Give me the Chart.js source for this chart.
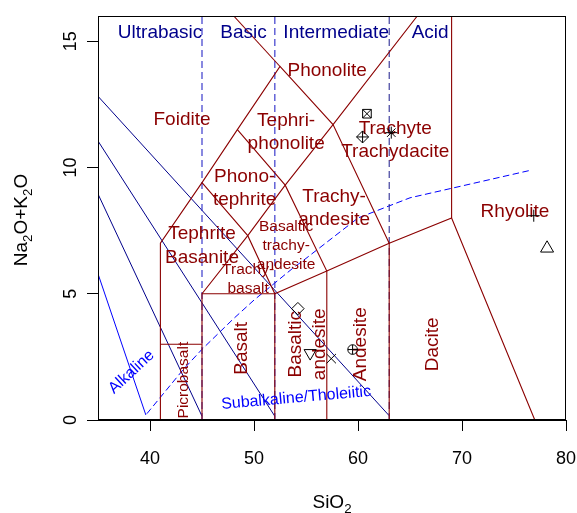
<!DOCTYPE html>
<html>
<head>
<meta charset="utf-8">
<script src="https://cdn.jsdelivr.net/npm/chart.js@4.4.1/dist/chart.umd.min.js"></script>
<style>
  html, body { margin: 0; padding: 0; background: #fff; }
  canvas { display: block; }
</style>
</head>
<body>
<canvas id="tas" width="577" height="513"></canvas>
<script>
// TAS diagram, total alkali vs silica (wt%)
const xTicks = [40, 50, 60, 70, 80]
const yTicks = [0, 5, 10, 15]

// samples
const sampleSiO2 = [60.86, 60.44, 63.2, 76.9, 78.18, 54.22, 55.4, 57.43, 59.48]
const sampleAlkali = [12.13, 11.21, 11.38, 8.09, 6.8, 4.41, 2.65, 2.43, 2.79]

// field boundaries, [SiO2, Na2O+K2O]
const fieldBoundaries = [
  [[41, 0], [41, 7], [45, 9.4], [48.4, 11.5], [52.5, 14], [57.6, 11.7], [63, 7]],
  [[48.05, 16], [52.5, 14]],
  [[45, 0], [45, 5], [52, 5], [52, 0]],
  [[41, 3], [45, 3]],
  [[45, 5], [49.4, 7.3], [53, 9.3], [57.6, 11.7], [65.7, 16]],
  [[45, 9.4], [49.4, 7.3], [52, 5], [57, 5.9], [63, 7], [69, 8], [77, 0]],
  [[48.4, 11.5], [53, 9.3], [57, 5.9], [57, 0]],
  [[63, 0], [63, 7]],
  [[69, 8], [69, 16]],
]
const silicaDividers = [45, 52, 63]
const navyLines = [
  [[35, 12.82], [63, 0.17]],
  [[35, 11.05], [52, 0.15]],
  [[35, 8.95], [45, 0.15]],
]
const alkalineLine = [[35, 5.79], [39.6, 0.2]]
const irvineBaragar = [[39.7, 0.25], [40, 0.4], [43.2, 2.0], [45, 2.8], [48, 4.0], [50, 4.75],
  [53.7, 6.0], [55, 6.4], [60, 8.0], [65, 8.8], [76.7, 9.9]]

const fieldNames = ['Foidite', 'Phonolite', 'Tephri-\nphonolite', 'Phono-\ntephrite', 'Tephrite\nBasanite',
  'Trachy-\nandesite', 'Basaltic\ntrachy-\nandesite', 'Trachy-\nbasalt', 'Trachyte\nTrachydacite',
  'Rhyolite', 'Picrobasalt', 'Basalt', 'Basaltic\nandesite', 'Andesite', 'Dacite']
const silicaClasses = ['Ultrabasic', 'Basic', 'Intermediate', 'Acid']
const seriesNames = ['Alkaline', 'Subalkaline/Tholeiitic']

const FONT = '"Liberation Sans", Arial, Helvetica, sans-serif'
const DARKRED = '#8b0000'
const NAVY = '#00008b'
const BLUE = '#0000ff'

// label placement: [SiO2, alkali, font size, angle]
const fieldLabelPos = [
  [43.08, 11.91, 19, 0], [57.03, 13.85, 19, 0], [53.09, 11.4, 19, 0], [49.1, 9.17, 19, 0],
  [45.0, 6.9, 19, 0], [57.7, 8.38, 19, 0], [53.09, 6.89, 15.5, 0], [49.43, 5.58, 15.5, 0],
  [63.58, 11.08, 19, 0], [75.09, 8.24, 19, 0], [43.21, 1.58, 15.5, 90], [48.83, 2.84, 19, 90],
  [55.18, 3.0, 19, 90], [60.3, 3.0, 19, 90], [67.2, 3.0, 19, 90],
]
const classLabelPos = [[40.97, 15.35], [49.0, 15.35], [57.9, 15.35], [66.94, 15.35]]
const seriesLabelPos = [[38.22, 1.9, 16, 43], [54.05, 0.87, 16, 5]]

// marker per sample: [pointStyle, radius, rotation] parts
const markerStyles = [
  [['rect', 6.1], ['crossRot', 6.1]],
  [['rectRot', 6], ['cross', 6]],
  [['star', 6]],
  [['cross', 6]],
  [['triangle', 7.5]],
  [['rectRot', 6.2]],
  [['triangle', 7, 180]],
  [['crossRot', 6.6]],
  [['circle', 4.8], ['cross', 4.8]],
]

const lineSet = (pts, color, width, dash) => ({
  data: pts.map(([x, y]) => ({ x, y })),
  showLine: true,
  pointRadius: 0,
  pointHoverRadius: 0,
  borderColor: color,
  borderWidth: width,
  borderDash: dash || [],
  fill: false,
  order: 2,
})

const datasets = []
fieldBoundaries.forEach(p => datasets.push(lineSet(p, DARKRED, 1.1)))
silicaDividers.forEach((x, i) => datasets.push(
  lineSet([[x, 0], [x, 16]], i < 2 ? 'rgba(45,45,200,0.8)' : '#1a1a8a', i < 2 ? 1.4 : 1, [7, 4])))
navyLines.forEach(p => datasets.push(lineSet(p, NAVY, 1)))
datasets.push(lineSet(alkalineLine, BLUE, 1))
datasets.push(lineSet(irvineBaragar, BLUE, 1, [6.5, 3.5]))

sampleSiO2.forEach((x, i) => {
  markerStyles[i].forEach(([style, r, rot]) => {
    datasets.push({
      data: [{ x, y: sampleAlkali[i] }],
      showLine: false,
      pointStyle: style,
      pointRadius: r,
      pointHoverRadius: r,
      pointRotation: rot || 0,
      pointBorderColor: '#000',
      pointBackgroundColor: 'rgba(0,0,0,0)',
      pointBorderWidth: 1,
      order: 1,
    })
  })
})

function drawLabel(ctx, text, px, py, size, angle, color) {
  const lines = text.split('\n')
  const lh = size * 1.23
  ctx.save()
  ctx.translate(px, py)
  ctx.rotate(-angle * Math.PI / 180)
  ctx.font = size + 'px ' + FONT
  ctx.fillStyle = color
  ctx.textAlign = 'center'
  ctx.textBaseline = 'middle'
  lines.forEach((l, k) => ctx.fillText(l, 0, (k - (lines.length - 1) / 2) * lh))
  ctx.restore()
}

// text with subscripts, parts = [text, isSub]
function drawSubText(ctx, parts, x, y, size, angle) {
  ctx.save()
  ctx.translate(x, y)
  ctx.rotate(-angle * Math.PI / 180)
  const widths = parts.map(([t, sub]) => {
    ctx.font = (sub ? size * 0.7 : size) + 'px ' + FONT
    return ctx.measureText(t).width
  })
  let cx = -widths.reduce((a, b) => a + b, 0) / 2
  ctx.fillStyle = '#000'
  ctx.textAlign = 'left'
  ctx.textBaseline = 'alphabetic'
  parts.forEach(([t, sub], k) => {
    ctx.font = (sub ? size * 0.7 : size) + 'px ' + FONT
    ctx.fillText(t, cx, sub ? size * 0.25 : 0)
    cx += widths[k]
  })
  ctx.restore()
}

const tasLayer = {
  id: 'tasLayer',
  afterDatasetDraw(chart, args) {
    if (args.index !== 0) return
    const { ctx, scales: { x, y } } = chart
    fieldNames.forEach((name, i) => {
      const [sx, sy, size, ang] = fieldLabelPos[i]
      drawLabel(ctx, name, x.getPixelForValue(sx), y.getPixelForValue(sy), size, ang, DARKRED)
    })
    silicaClasses.forEach((name, i) => {
      const [sx, sy] = classLabelPos[i]
      drawLabel(ctx, name, x.getPixelForValue(sx), y.getPixelForValue(sy), 19, 0, NAVY)
    })
    seriesNames.forEach((name, i) => {
      const [sx, sy, size, ang] = seriesLabelPos[i]
      drawLabel(ctx, name, x.getPixelForValue(sx), y.getPixelForValue(sy), size, ang, BLUE)
    })
  },
  afterDatasetsDraw(chart) {
    const { ctx, chartArea: a } = chart
    ctx.save()
    ctx.strokeStyle = '#000'
    ctx.lineWidth = 1
    const l = Math.round(a.left) + 0.5, t = Math.round(a.top) + 0.5
    const r = Math.round(a.right) - 0.5, b = Math.round(a.bottom) - 0.5
    ctx.strokeRect(l, t, r - l, b - t)
    ctx.restore()
  },
  afterDraw(chart) {
    const { ctx, chartArea: a } = chart
    drawSubText(ctx, [['SiO', 0], ['2', 1]], (a.left + a.right) / 2, a.bottom + 88, 19, 0)
    drawSubText(ctx, [['Na', 0], ['2', 1], ['O+K', 0], ['2', 1], ['O', 0]],
      a.left - 70.7, (a.top + a.bottom) / 2 + 2, 19, 90)
  },
}

const axisGrid = { drawOnChartArea: false, tickLength: 11, color: '#000', lineWidth: 1 }
const tickFont = { family: FONT, size: 18 }
const noPad = s => { s.paddingLeft = 0; s.paddingRight = 0; s.paddingTop = 0; s.paddingBottom = 0 }

new Chart(document.getElementById('tas'), {
  type: 'scatter',
  data: { datasets },
  options: {
    responsive: false,
    animation: false,
    devicePixelRatio: 1,
    events: [],
    layout: { padding: { top: 16, right: 11, bottom: 0, left: 0 } },
    plugins: { legend: { display: false }, tooltip: { enabled: false } },
    scales: {
      x: {
        type: 'linear',
        min: 35,
        max: 80,
        afterBuildTicks: s => { s.ticks = xTicks.map(v => ({ value: v })) },
        afterFit: s => { s.height = 93; noPad(s) },
        grid: axisGrid,
        border: { color: '#000', width: 1 },
        ticks: { color: '#000', font: tickFont, padding: 17, maxRotation: 0, autoSkip: false },
      },
      y: {
        type: 'linear',
        min: 0,
        max: 16,
        afterBuildTicks: s => { s.ticks = yTicks.map(v => ({ value: v })) },
        afterFit: s => { s.width = 98; noPad(s) },
        grid: axisGrid,
        border: { color: '#000', width: 1 },
        ticks: { color: '#000', font: tickFont, padding: 6, minRotation: 90, maxRotation: 90, crossAlign: 'center', autoSkip: false },
      },
    },
  },
  plugins: [tasLayer],
})
</script>
</body>
</html>
